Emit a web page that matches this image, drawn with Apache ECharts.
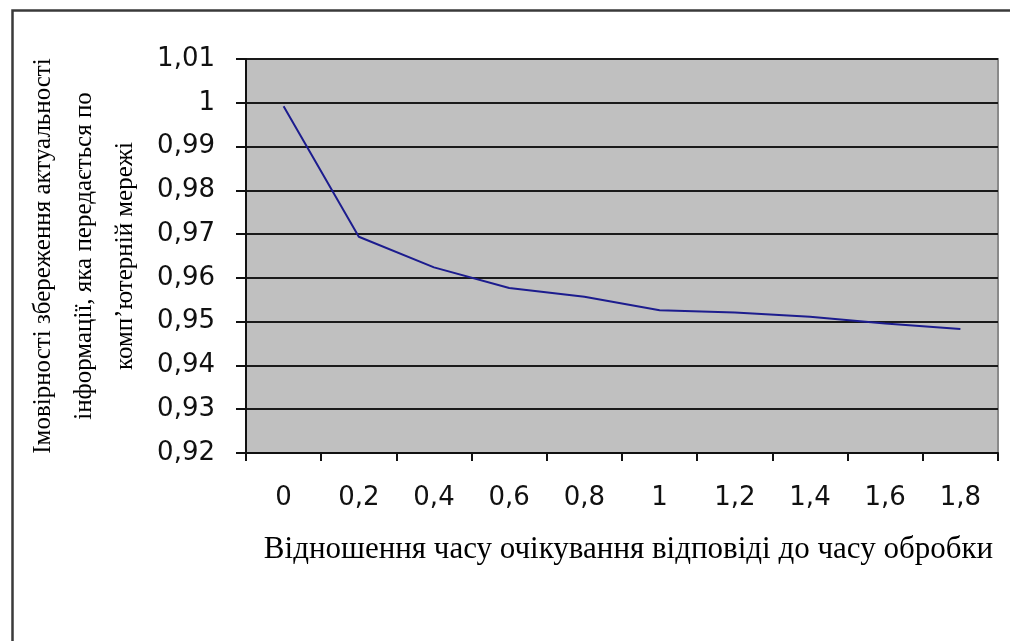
<!DOCTYPE html>
<html>
<head>
<meta charset="utf-8">
<script src="https://cdn.jsdelivr.net/npm/echarts@6/dist/echarts.min.js"></script>
<style>
html,body{margin:0;padding:0;background:#fff;}
#chart{width:1010px;height:641px;}
</style>
</head>
<body>
<div id="chart"></div>
<script>
const categories = ['0', '0,2', '0,4', '0,6', '0,8', '1', '1,2', '1,4', '1,6', '1,8'];
const probability = [0.9992, 0.9694, 0.9624, 0.9577, 0.9557, 0.9526, 0.9521, 0.9511, 0.9496, 0.9483];
const yMin = 0.92, yMax = 1.01, yStep = 0.01;
const yTitle = 'Імовірності збереження актуальності\nінформації, яка передається по\nкомп’ютерній мережі';
const xTitle = 'Відношення часу очікування відповіді до часу обробки';

const chart = echarts.init(document.getElementById('chart'), null, {renderer: 'canvas'});
chart.setOption({
  animation: false,
  backgroundColor: '#ffffff',
  graphic: [{
    type: 'rect', left: 10, top: 8, silent: true,
    shape: {width: 1100, height: 700},
    style: {fill: 'none', stroke: '#3a3a3a', lineWidth: 2.5}
  }],
  grid: {
    left: 246, right: 12, top: 59, bottom: 188,
    outerBoundsMode: 'none', containLabel: false,
    show: true, backgroundColor: '#c0c0c0', borderColor: '#8a8a8a', borderWidth: 2
  },
  xAxis: {
    type: 'category', data: categories, boundaryGap: true,
    axisLine: {lineStyle: {color: '#111', width: 2}},
    axisTick: {show: true, interval: 0, length: 8, lineStyle: {color: '#111', width: 2}},
    axisLabel: {interval: 0, margin: 32, fontFamily: 'DejaVu Sans', fontSize: 26, color: '#111'},
    name: xTitle, nameLocation: 'middle', nameGap: 81,
    nameTextStyle: {fontFamily: 'Liberation Serif, Times New Roman', fontSize: 31, color: '#000', padding: [0, 0, 0, 13]}
  },
  yAxis: {
    type: 'value', min: yMin, max: yMax, interval: yStep,
    axisLine: {show: true, lineStyle: {color: '#111', width: 2}},
    axisTick: {show: true, length: 10, lineStyle: {color: '#111', width: 2}},
    splitLine: {show: true, lineStyle: {color: '#1a1a1a', width: 2}},
    axisLabel: {
      margin: 31, fontFamily: 'DejaVu Sans', fontSize: 26, color: '#111',
      formatter: v => String(+v.toFixed(2)).replace('.', ',')
    },
    name: yTitle, nameLocation: 'middle', nameRotate: 90, nameGap: 100,
    nameTextStyle: {fontFamily: 'Liberation Serif, Times New Roman', fontSize: 25, color: '#000', lineHeight: 41, align: 'center'}
  },
  series: [{
    type: 'line', data: probability, symbol: 'none', smooth: false,
    lineStyle: {color: '#1c1c8e', width: 2}
  }]
});
</script>
</body>
</html>
